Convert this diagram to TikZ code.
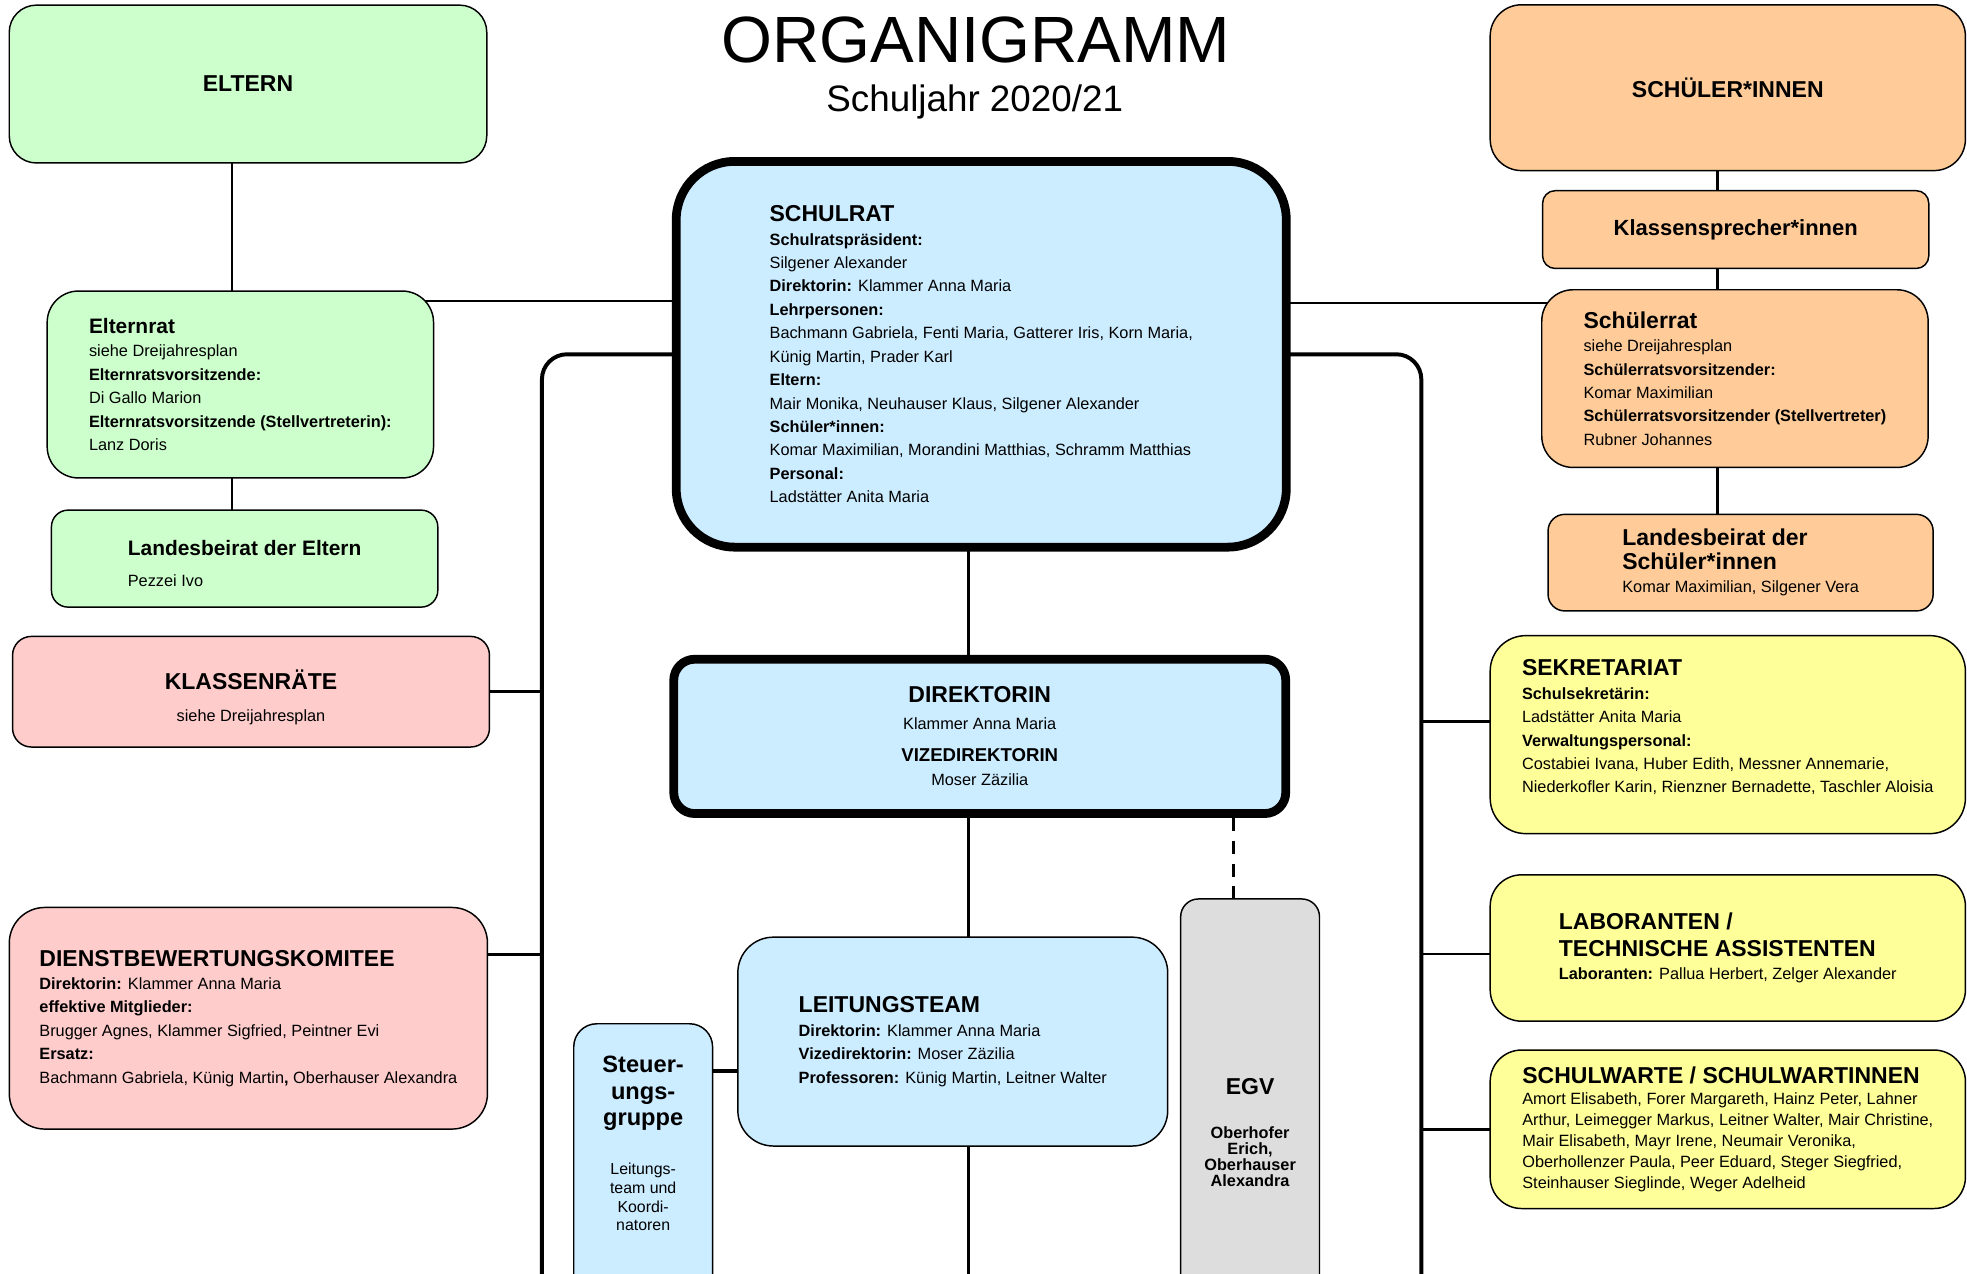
\documentclass[tikz,border=0pt]{standalone}
\usepackage{fontspec}
\setmainfont{Liberation Sans}
\usepackage{tikz}
\usetikzlibrary{positioning, backgrounds}
\definecolor{elterngreen}{RGB}{204, 255, 204}
\definecolor{schuelerorange}{RGB}{255, 204, 153}
\definecolor{schulblue}{RGB}{204, 236, 255}
\definecolor{raetepink}{RGB}{255, 204, 204}
\definecolor{personalyellow}{RGB}{255, 255, 153}
\definecolor{egvgray}{RGB}{221, 221, 221}
\newcommand{\boxhead}[2][11]{{\fontsize{#1}{#1}\selectfont\bfseries #2}}
\newcommand{\bodysize}{\fontsize{7.8}{11.2}\selectfont}
\newcommand{\tiefe}[1]{\rule[-#1]{0pt}{#1}}
\newcommand{\hoehe}[1]{\rule{0pt}{#1}}

\begin{document}
\begin{tikzpicture}[x=0.6pt, y=-0.6pt,
  orgbox/.style={draw, line width=0.7pt, align=left, inner sep=0pt, font=\bodysize},
  elternbox/.style={orgbox, fill=elterngreen},
  schuelerbox/.style={orgbox, fill=schuelerorange},
  blaubox/.style={orgbox, fill=schulblue},
  raetebox/.style={orgbox, fill=raetepink},
  personalbox/.style={orgbox, fill=personalyellow},
  leadbox/.style={blaubox, line width=4.2pt},
  conn/.style={line width=1.3pt},
  rail/.style={line width=1.9pt},
  dashconn/.style={line width=1.4pt, dash pattern=on 6.4pt off 4.5pt}]
  \useasboundingbox (0,0) rectangle (1568,1015.5);

  % Title
  \node[anchor=base, font=\fontsize{31.3}{31.3}\selectfont] (titel) at (778,50) {ORGANIGRAMM};
  \node[anchor=base, font=\fontsize{17.6}{17.6}\selectfont] (schuljahr) at (777,88.8) {Schuljahr 2020/21};

  % Eltern
  \node[elternbox, rounded corners=13pt, minimum width=228.4pt, minimum height=75.5pt] (eltern) at (197.7,67) {\boxhead{ELTERN}};

  \node[elternbox, rounded corners=15pt, minimum width=184.8pt, minimum height=89.4pt] (elternrat) at (191.6,306.5) {
    \boxhead[10]{Elternrat}\\
    siehe Dreijahresplan\\
    \textbf{Elternratsvorsitzende:}\\
    Di Gallo Marion\\
    \textbf{Elternratsvorsitzende (Stellvertreterin):}\\
    Lanz Doris
  };

  \node[elternbox, rounded corners=8pt, minimum width=184.8pt, minimum height=46.4pt] (lbeltern) at (195,445.3) {
    \hoehe{12.1pt}\boxhead[10]{Landesbeirat der Eltern}\\[3.8pt]
    Pezzei Ivo
  };

  % Raete
  \node[raetebox, align=center, rounded corners=9pt, minimum width=228.1pt, minimum height=52.9pt] (klassenraete) at (200.1,551.4) {
    \hoehe{14.8pt}\boxhead{KLASSENRÄTE}\\[3.7pt]
    siehe Dreijahresplan
  };

  \node[raetebox, rounded corners=17pt, minimum width=228.7pt, minimum height=106pt] (dbk) at (198,811.7) {
    \boxhead{DIENSTBEWERTUNGSKOMITEE}\\
    \textbf{Direktorin:} Klammer Anna Maria\\
    \textbf{effektive Mitglieder:}\\
    Brugger Agnes, Klammer Sigfried, Peintner Evi\\
    \textbf{Ersatz:}\\
    Bachmann Gabriela, Künig Martin\textbf{,} Oberhauser Alexandra
  };

  % Schulrat and Direktion
  \node[leadbox, rounded corners=28pt, minimum width=291.8pt, minimum height=184.5pt] (schulrat) at (782.2,282.4) {
    \boxhead{SCHULRAT}\\
    \textbf{Schulratspräsident:}\\
    Silgener Alexander\\
    \textbf{Direktorin:} Klammer Anna Maria\\
    \textbf{Lehrpersonen:}\\
    Bachmann Gabriela, Fenti Maria, Gatterer Iris, Korn Maria,\\
    Künig Martin, Prader Karl\\
    \textbf{Eltern:}\\
    Mair Monika, Neuhauser Klaus, Silgener Alexander\\
    \textbf{Schüler*innen:}\\
    Komar Maximilian, Morandini Matthias, Schramm Matthias\\
    \textbf{Personal:}\\
    Ladstätter Anita Maria
  };

  \node[leadbox, align=center, rounded corners=10pt, minimum width=292.7pt, minimum height=73.8pt] (direktorin) at (781,587) {
    \boxhead{DIREKTORIN}\\[1.4pt]
    Klammer Anna Maria\\[4.4pt]
    \boxhead[8.9]{VIZEDIREKTORIN}\\[0.4pt]
    Moser Zäzilia
  };

  \node[blaubox, rounded corners=17pt, minimum width=205.6pt, minimum height=99.9pt] (leitungsteam) at (759.5,830.3) {
    \boxhead{LEITUNGSTEAM}\\
    \textbf{Direktorin:} Klammer Anna Maria\\
    \textbf{Vizedirektorin:} Moser Zäzilia\\
    \textbf{Professoren:} Künig Martin, Leitner Walter
  };

  \node[blaubox, align=center, anchor=north, rounded corners=11pt, minimum width=66.4pt, inner ysep=15.5pt, text depth=150pt, font=\fontsize{7.6}{9}\selectfont] (steuerung) at (512.7,815.5) {
    \boxhead[11.3]{Steuer-}\\[3.6pt]
    \boxhead[11.3]{ungs-}\\[3.6pt]
    \boxhead[11.3]{gruppe}\\[14.5pt]
    Leitungs-\\
    team und\\
    Koordi-\\
    natoren
  };

  \node[orgbox, fill=egvgray, align=center, anchor=north, rounded corners=8.5pt, minimum width=66.4pt, inner ysep=86pt, text depth=150pt, font=\fontsize{7.8}{7.6}\selectfont\bfseries] (egv) at (996.5,716) {
    \boxhead{EGV}\\[13.4pt]
    Oberhofer\\
    Erich,\\
    Oberhauser\\
    Alexandra
  };

  % Schueler
  \node[schuelerbox, rounded corners=15pt, minimum width=227.3pt, minimum height=79.3pt] (schueler) at (1377.3,69.9) {\boxhead{SCHÜLER*INNEN}};

  \node[schuelerbox, rounded corners=6pt, minimum width=184.7pt, minimum height=37.2pt] (klassensprecher) at (1383.6,183) {\boxhead[10.5]{Klassensprecher*innen}};

  \node[schuelerbox, rounded corners=15pt, minimum width=184.8pt, minimum height=85pt] (schuelerrat) at (1383,301.8) {
    \boxhead{Schülerrat}\\
    siehe Dreijahresplan\\
    \textbf{Schülerratsvorsitzender:}\\
    Komar Maximilian\\
    \textbf{Schülerratsvorsitzender (Stellvertreter)}\\
    Rubner Johannes
  };

  \node[schuelerbox, rounded corners=8pt, minimum width=184.2pt, minimum height=46.2pt] (lbschueler) at (1387.5,448.5) {
    \boxhead{Landesbeirat der}\\
    \boxhead{Schüler*innen}\\
    Komar Maximilian, Silgener Vera
  };

  % Personal
  \node[personalbox, rounded corners=17pt, minimum width=227.3pt, minimum height=94.7pt] (sekretariat) at (1377.3,585.6) {
    \boxhead{SEKRETARIAT}\\
    \textbf{Schulsekretärin:}\\
    Ladstätter Anita Maria\\
    \textbf{Verwaltungspersonal:}\\
    Costabiei Ivana, Huber Edith, Messner Annemarie,\\
    Niederkofler Karin, Rienzner Bernadette, Taschler Aloisia\tiefe{8pt}
  };

  \node[personalbox, rounded corners=15pt, minimum width=227.3pt, minimum height=70pt] (laboranten) at (1377.3,755.7) {
    \boxhead{LABORANTEN /}\\[1.4pt]
    \boxhead{TECHNISCHE ASSISTENTEN}\\
    \textbf{Laboranten:} Pallua Herbert, Zelger Alexander
  };

  \node[personalbox, rounded corners=15pt, minimum width=227.3pt, minimum height=75.8pt, font=\fontsize{7.8}{10}\selectfont] (schulwarte) at (1377.3,900.2) {
    \boxhead{SCHULWARTE / SCHULWARTINNEN}\\
    Amort Elisabeth, Forer Margareth, Hainz Peter, Lahner\\
    Arthur, Leimegger Markus, Leitner Walter, Mair Christine,\\
    Mair Elisabeth, Mayr Irene, Neumair Veronika,\\
    Oberhollenzer Paula, Peer Eduard, Steger Siegfried,\\
    Steinhauser Sieglinde, Weger Adelheid
  };

  % Connectors
  \begin{scope}[on background layer]
    \coordinate (elternx) at (185,0);
    \coordinate (schuelerx) at (1369,0);
    \coordinate (midx) at (772,0);
    \coordinate (egvx) at (983,0);
    \coordinate (ratlinkL) at (0,240);
    \coordinate (ratlinkR) at (0,241.5);
    \coordinate (dbklink) at (0,761);
    \coordinate (sekrlink) at (0,575);
    \coordinate (lablink) at (0,760.5);
    \coordinate (steuerlink) at (0,853.6);
    \coordinate (lrail) at (432,1040);
    \coordinate (rrail) at (1133,1040);
    \coordinate (ltend) at (772,1040);

    \draw[conn] (elternx |- eltern.center) -- (elternx |- elternrat.center);
    \draw[conn] (elternx |- elternrat.center) -- (elternx |- lbeltern.center);
    \draw[conn] (elternrat.center |- ratlinkL) -- (schulrat.center |- ratlinkL);
    \draw[conn] (schulrat.center |- ratlinkR) -- (schuelerrat.center |- ratlinkR);

    \draw[conn] (schuelerx |- schueler.center) -- (schuelerx |- klassensprecher.center);
    \draw[conn] (schuelerx |- klassensprecher.center) -- (schuelerx |- schuelerrat.center);
    \draw[conn] (schuelerx |- schuelerrat.center) -- (schuelerx |- lbschueler.center);

    \draw[conn] (midx |- schulrat.center) -- (midx |- direktorin.center);
    \draw[conn] (midx |- direktorin.center) -- (midx |- leitungsteam.center);
    \draw[conn] (midx |- leitungsteam.center) -- (ltend);
    \draw[dashconn] (egvx |- direktorin.south) -- (egvx |- egv.north);

    \draw[rail, rounded corners=12pt] (schulrat.center) -| (lrail);
    \draw[rail, rounded corners=12pt] (schulrat.center) -| (rrail);

    \draw[conn] (klassenraete.center) -- (klassenraete.center -| lrail);
    \draw[conn] (dbk.center |- dbklink) -- (lrail |- dbklink);
    \draw[conn] (sekretariat.center |- sekrlink) -- (rrail |- sekrlink);
    \draw[conn] (laboranten.center |- lablink) -- (rrail |- lablink);
    \draw[conn] (schulwarte.center) -- (schulwarte.center -| rrail);
    \draw[rail] (steuerung.center |- steuerlink) -- (leitungsteam.center |- steuerlink);
  \end{scope}
\end{tikzpicture}
\end{document}
